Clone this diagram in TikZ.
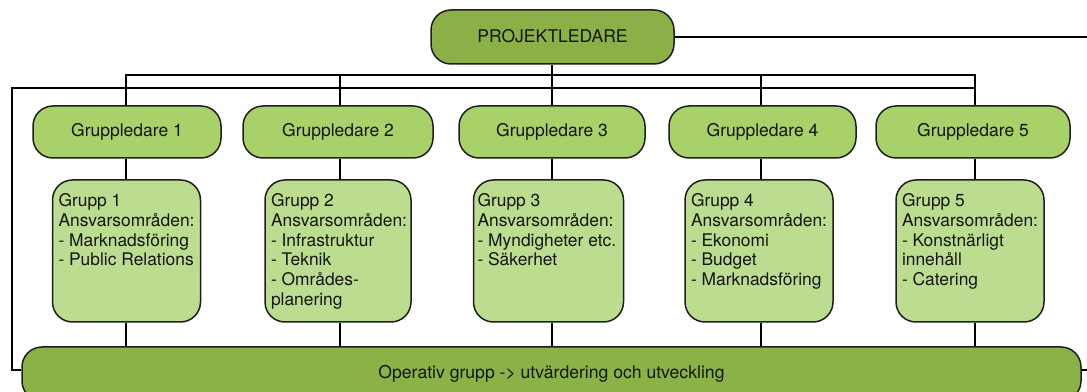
\documentclass[tikz,border=0pt]{standalone}
\usepackage{fontspec}
\setmainfont{TeX Gyre Heros}
\usetikzlibrary{calc}
\definecolor{plg}{RGB}{140,176,72}
\definecolor{glg}{RGB}{168,209,106}
\definecolor{grg}{RGB}{188,221,143}
\definecolor{opg}{RGB}{139,178,71}
\definecolor{edgec}{RGB}{30,30,30}
\definecolor{txtc}{RGB}{20,20,20}
\newcommand\grptext[2]{\parbox[c][142pt][t]{#1}{\raggedright\vspace*{13.5pt}#2}}
\begin{document}
\begin{tikzpicture}[x=1pt,y=1pt,
  box/.style={draw=edgec, line width=1.5pt, rounded corners=20pt, text=txtc},
  plbox/.style={box, fill=plg, minimum width=243pt, minimum height=54pt, inner sep=0pt, font=\fontsize{17.5}{21}\selectfont},
  glbox/.style={box, fill=glg, minimum height=52pt, inner sep=0pt, font=\fontsize{17.5}{20}\selectfont},
  grpbox/.style={box, fill=grg, inner xsep=6pt, inner ysep=0pt, font=\fontsize{17.4}{19.8}\selectfont},
  opbox/.style={box, fill=opg, minimum width=1059pt, minimum height=54pt, inner sep=0pt, font=\fontsize{17.6}{21}\selectfont},
  conn/.style={line width=2.2pt, draw=black},
]
\useasboundingbox (0,0) rectangle (1087,391);
% column and helper coordinates
\coordinate (c1) at (126,0);
\coordinate (c2) at (340,0);
\coordinate (c3) at (552,0);
\coordinate (c4) at (761,0);
\coordinate (c5) at (975,0);
\coordinate (ub) at (0,316);
\coordinate (lb) at (0,303);
\coordinate (lx) at (12,0);
\coordinate (oy) at (0,21);
\coordinate (redge) at (1087,0);

% top
\node[plbox] (pl) at (552.5,354) {\raisebox{2.5pt}{PROJEKTLEDARE}};

% group leaders
\node[glbox, minimum width=188pt] (gl1) at (127,259) {Gruppledare 1};
\node[glbox, minimum width=190pt] (gl2) at (338,259) {Gruppledare 2};
\node[glbox, minimum width=186pt] (gl3) at (552,259) {Gruppledare 3};
\node[glbox, minimum width=187pt] (gl4) at (762.5,259) {Gruppledare 4};
\node[glbox, minimum width=194pt] (gl5) at (973,259) {Gruppledare 5};

% groups
\node[grpbox] (g1) at (126.5,140) {\grptext{136pt}{Grupp 1\\Ansvarsområden:\\- Marknadsföring\\- Public Relations}};
\node[grpbox] (g2) at (338,140) {\grptext{134pt}{Grupp 2\\Ansvarsområden:\\- Infrastruktur\\- Teknik\\- Områdes-\\planering}};
\node[grpbox, inner xsep=4pt] (g3) at (548.5,140) {\grptext{142pt}{Grupp 3\\Ansvarsområden:\\- Myndigheter etc.\\- Säkerhet}};
\node[grpbox] (g4) at (759,140) {\grptext{136pt}{Grupp 4\\Ansvarsområden:\\- Ekonomi\\- Budget\\- Marknadsföring}};
\node[grpbox] (g5) at (970,140) {\grptext{136pt}{Grupp 5\\Ansvarsområden:\\- Konstnärligt\\innehåll\\- Catering}};

% operative group
\node[opbox] (op) at (551.5,17) {\raisebox{-4.5pt}{Operativ grupp -> utvärdering och utveckling}};

% connectors
\draw[conn] (pl.east) -- (pl.east -| redge);
\draw[conn] (oy -| op.east) -- (oy -| redge);
\draw[conn] (gl1.north -| c1) -- (ub -| c1) -- (ub -| c5) -- (gl5.north -| c5);
\draw[conn] (ub -| c2) -- (gl2.north -| c2);
\draw[conn] (ub -| c4) -- (gl4.north -| c4);
\draw[conn] (pl.south -| c3) -- (gl3.north -| c3);
\draw[conn] (lb -| c5) -- (lb -| lx) -- (oy -| lx) -- (oy -| op.west);
\foreach \i in {1,...,5}{
  \draw[conn] (gl\i.south -| c\i) -- (g\i.north -| c\i);
  \draw[conn] (g\i.south -| c\i) -- (op.north -| c\i);
}
\end{tikzpicture}
\end{document}
